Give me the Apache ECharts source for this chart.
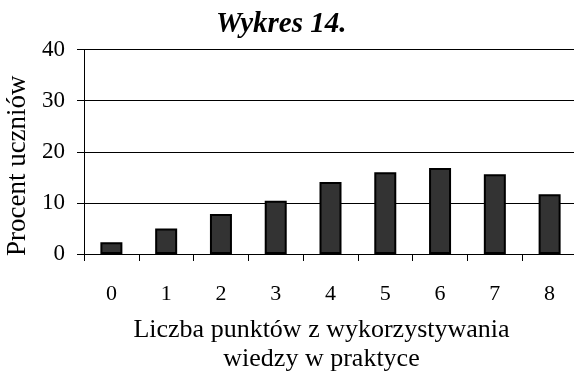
<!DOCTYPE html>
<html>
<head>
<meta charset="utf-8">
<script src="https://cdn.jsdelivr.net/npm/echarts@6/dist/echarts.min.js"></script>
<style>
  html, body { margin: 0; padding: 0; background: #fff; }
  #chart { width: 574px; height: 376px; }
</style>
</head>
<body>
<div id="chart"></div>
<script>
// Punkty z wykorzystywania wiedzy w praktyce
const categories = ['0', '1', '2', '3', '4', '5', '6', '7', '8'];
const percentValues = [2.3, 5.0, 7.8, 10.4, 14.1, 16.0, 16.8, 15.6, 11.7];
const yTicks = [0, 10, 20, 30, 40];

const serif = '"Liberation Serif", "Times New Roman", serif';

const chart = echarts.init(document.getElementById('chart'), null, { renderer: 'canvas' });

chart.setOption({
  backgroundColor: '#ffffff',
  animation: false,
  title: {
    text: 'Wykres 14.',
    left: 211,
    top: 5,
    textStyle: {
      fontFamily: serif,
      fontSize: 29,
      fontWeight: 'bold',
      fontStyle: 'italic',
      color: '#000'
    }
  },
  grid: {
    left: 84, top: 49.5, bottom: 122, right: -3,
    containLabel: false,
    outerBoundsMode: 'none'
  },
  xAxis: {
    type: 'category',
    data: categories,
    name: 'Liczba punktów z wykorzystywania\nwiedzy w praktyce',
    nameLocation: 'middle',
    nameGap: 62,
    nameTextStyle: {
      fontFamily: serif,
      fontSize: 26,
      lineHeight: 29,
      color: '#000',
      padding: [0, 18, 0, 0]
    },
    axisLine: { lineStyle: { color: '#000', width: 1 } },
    axisTick: { show: true, length: 7, lineStyle: { color: '#000' } },
    axisLabel: {
      fontFamily: serif,
      fontSize: 22,
      color: '#000',
      margin: 29
    }
  },
  yAxis: {
    type: 'value',
    min: yTicks[0],
    max: yTicks[yTicks.length - 1],
    interval: 10,
    name: 'Procent uczniów',
    nameLocation: 'middle',
    nameGap: 45,
    nameRotate: 90,
    nameTextStyle: {
      fontFamily: serif,
      fontSize: 27,
      color: '#000',
      padding: [0, 28, 0, 0]
    },
    axisLine: { show: true, lineStyle: { color: '#000', width: 1 } },
    axisTick: { show: true, length: 7, lineStyle: { color: '#000' } },
    axisLabel: {
      fontFamily: serif,
      fontSize: 23,
      color: '#000',
      margin: 19
    },
    splitLine: { show: true, lineStyle: { color: '#000', width: 1 } }
  },
  series: [{
    type: 'bar',
    data: percentValues,
    barWidth: 22,
    itemStyle: {
      color: '#333333',
      borderColor: '#000',
      borderWidth: 2
    }
  }]
});
</script>
</body>
</html>
